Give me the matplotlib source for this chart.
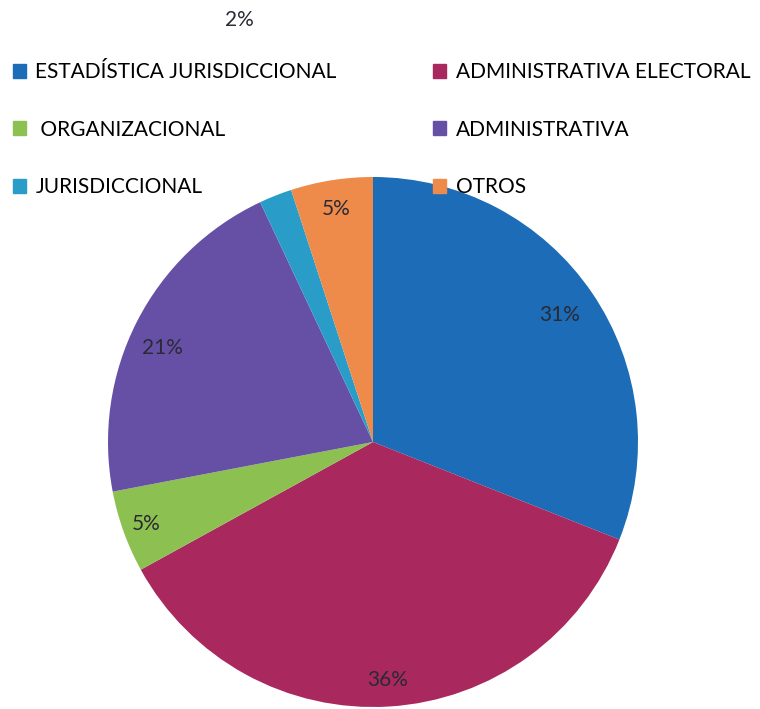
import matplotlib
matplotlib.use("Agg")
import matplotlib.pyplot as plt
import matplotlib.patches as mpatches
import numpy as np

categories = ["ESTADÍSTICA JURISDICCIONAL", "ADMINISTRATIVA ELECTORAL", " ORGANIZACIONAL",
              "ADMINISTRATIVA", "JURISDICCIONAL", "OTROS"]
values = [31, 36, 5, 21, 2, 5]
pct_labels = ["31%", "36%", "5%", "21%", "2%", "5%"]
colors = ["#1C6CB7", "#A9285E", "#8CC152", "#6650A5", "#2A9CC8", "#EE8B4A"]
label_dist = [0.85, 0.90, 0.91, 0.87, 1.67, 0.89]
label_nudge = [0, 0, 0, 3.0, -4.0, 0]  # degrees

plt.rcParams['font.family'] = ['Lato', 'DejaVu Sans']

fig = plt.figure(figsize=(7.6, 7.09), dpi=100)
fig.patch.set_facecolor("white")
W, H = 760, 709
cx, cy, r = 373, 442, 265
ax = fig.add_axes([(cx - r) / W, (H - cy - r) / H, 2 * r / W, 2 * r / H])
wedges, _ = ax.pie(values, colors=colors, startangle=90, counterclock=False,
                   radius=1.0, wedgeprops=dict(linewidth=0))
ax.set_xlim(-1, 1)
ax.set_ylim(-1, 1)
ax.set_aspect("equal")
ax.axis("off")

for w, lab, d, n in zip(wedges, pct_labels, label_dist, label_nudge):
    th = np.deg2rad((w.theta1 + w.theta2) / 2 + n)
    ax.text(d * np.cos(th), d * np.sin(th), lab, ha="center", va="center",
            fontsize=15, color="#2a2a35", clip_on=False)

# matplotlib fills legend columns first; this order reads row by row
order = [0, 2, 4, 1, 3, 5]
handles = [mpatches.Patch(color=colors[i], label=categories[i]) for i in order]
fig.legend(handles=handles, ncol=2, loc="upper left", bbox_to_anchor=(0.0, 0.93),
           frameon=False, fontsize=15, handlelength=0.65, handleheight=0.65,
           handletextpad=0.45, columnspacing=4.6, labelspacing=1.8, borderaxespad=0.2)

fig.savefig("out.png", dpi=100, facecolor="white")
